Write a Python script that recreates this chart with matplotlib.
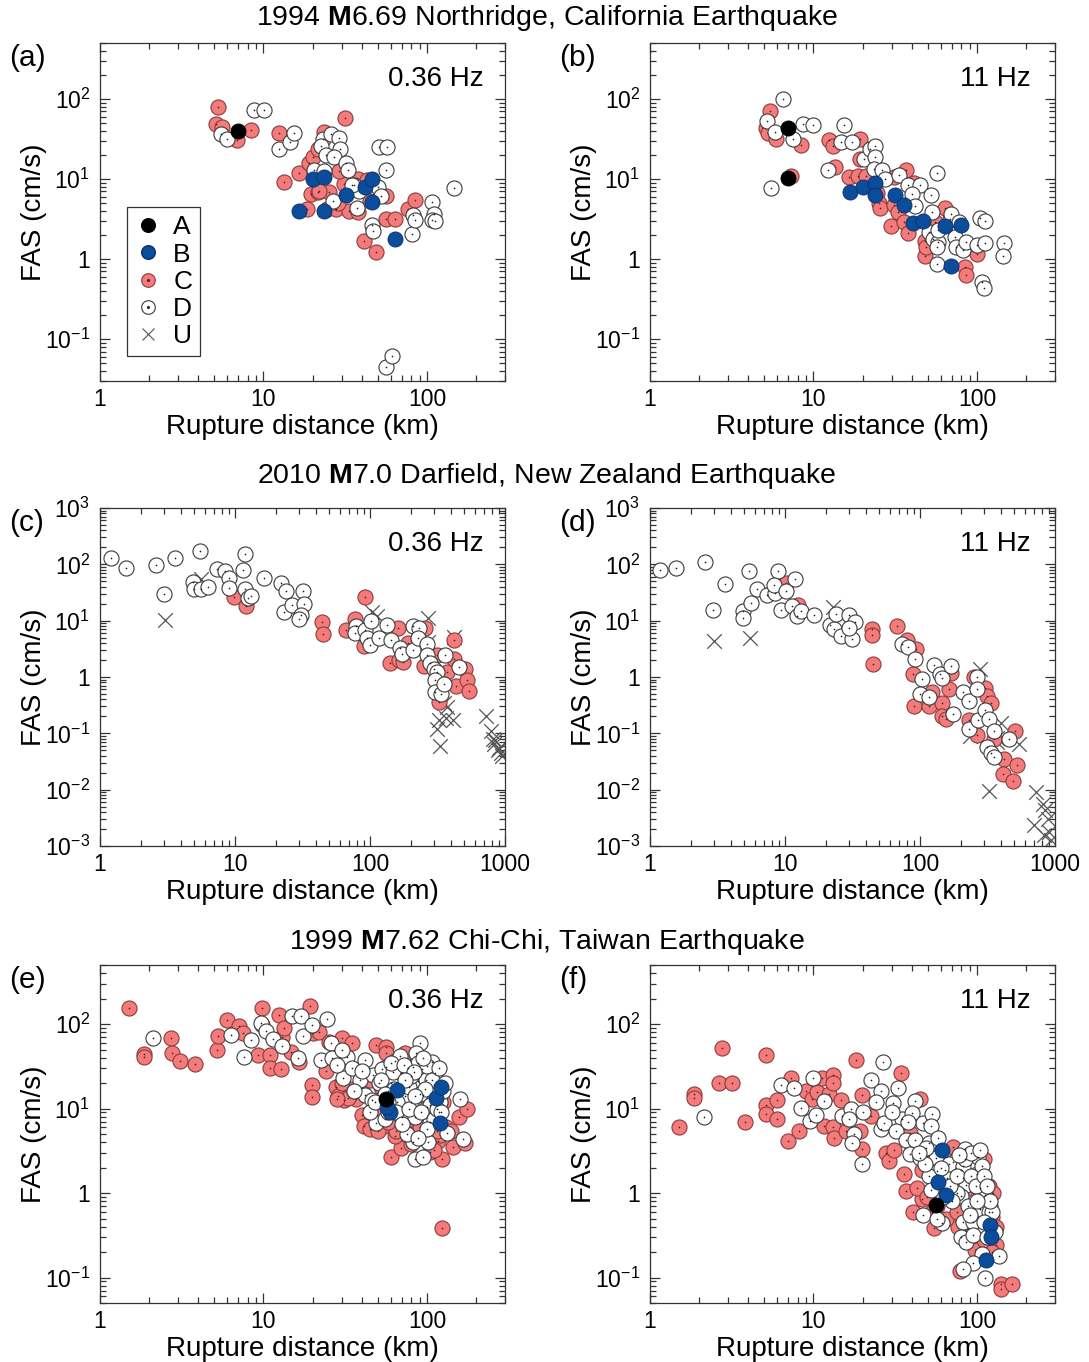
import numpy as np
import matplotlib
matplotlib.use('Agg')
import matplotlib.pyplot as plt
from matplotlib.lines import Line2D
from matplotlib.ticker import LogLocator, FuncFormatter, NullFormatter

plt.rcParams.update({'font.family': 'Liberation Sans', 'mathtext.fontset': 'custom',
                     'mathtext.rm': 'Liberation Sans', 'mathtext.bf': 'Liberation Sans:bold',
                     'mathtext.it': 'Liberation Sans:italic'})

# ---- (a) Northridge 0.36 Hz ----
a_A_r = [7.0]; a_A_f = [40]
a_B_r = [16.6, 23.5, 20, 23.5, 32, 41.5, 46, 46, 64]
a_B_f = [4.0, 4.0, 10, 10.5, 6.4, 8.0, 10, 5.2, 1.8]
a_C_r = [5.3, 5.1, 5.6, 6.9, 8.4, 12.4, 31.5, 13.3, 16.6, 19, 20, 21.5, 23.5, 19.5, 21.5, 25, 18.5,
         24.5, 27.7, 31, 33.5, 38, 38, 43, 45, 56, 41, 49, 56, 64, 76, 84, 28.5, 29, 22]
a_C_f = [79, 48, 45, 31, 41, 38, 58, 9.1, 12, 16, 19, 24, 39, 6.5, 6.9, 6.8, 4.2, 4.2, 4.2, 8.6, 4.0,
         3.9, 10, 9.6, 5.3, 6.1, 1.7, 1.24, 3.2, 3.2, 4.2, 5.4, 5.0, 12.6, 7.0]
a_D_r = [5.5, 6.0, 8.7, 10.1, 12.4, 14.5, 15.4, 23, 25.8, 29, 29.5, 22.5, 24, 27, 32, 33, 20.5, 23.5,
         36, 38.5, 37.5, 26.5, 50, 52, 46, 47, 51, 57, 56, 82, 81, 85, 108, 110, 108, 112, 146, 56, 61, 35]
a_D_f = [37, 32, 73, 73, 24, 29, 38, 31.5, 36, 33, 24, 25.5, 20, 19, 16, 13, 13, 12.5, 8.4, 7, 4.3,
         5.3, 7.9, 6.2, 2.7, 2.25, 25, 25, 13, 3.6, 2.05, 3.1, 5.1, 3.7, 3.1, 3.0, 7.8, 0.045, 0.062, 8.5]

# ---- (b) Northridge 11 Hz ----
b_A_r = [7.0, 6.95]; b_A_f = [44, 10.3]
b_B_r = [16.8, 20.2, 23.8, 23.8, 31.6, 35.7, 40.8, 47, 64, 80, 69]
b_B_f = [6.9, 8.0, 8.8, 6.4, 6.3, 4.8, 2.8, 3.0, 2.6, 2.7, 0.82]
b_C_r = [5.4, 5.1, 5.3, 5.9, 8.4, 7.3, 12.5, 13.2, 13.6, 16.6, 18.8, 19.2, 19.2, 21, 24.5, 25, 25.5,
         29.8, 31.2, 32.7, 36, 37.7, 37, 31, 48, 48, 49, 55.5, 64, 85, 86, 100, 41]
b_C_f = [70, 44, 38, 32, 26.5, 10.8, 31, 26, 14, 10.6, 11, 31.5, 18, 11, 6.6, 5.0, 4.3, 2.6, 4.7, 3.9,
         2.9, 2.1, 13, 10.6, 1.7, 1.1, 1.4, 2.9, 4.3, 0.8, 0.64, 1.15, 8.8]
b_D_r = [6.5, 5.2, 5.85, 5.5, 7.5, 8.6, 10.0, 12.3, 14.8, 15.4, 17.2, 20.4, 22.3, 23.8, 23.8, 23.3,
         26.3, 27.5, 33.5, 37.9, 45, 40, 52, 42, 53, 51, 54, 58, 57, 57, 68, 69, 73, 74, 82, 86, 100,
         105, 112, 112, 108, 110, 147, 144, 57, 78, 58]
b_D_f = [100, 53, 39, 7.8, 32, 49, 47, 13, 29, 47, 29, 18, 24, 26, 19, 13.5, 13, 10, 11.3, 8.3, 8.3,
         6.5, 6.3, 4.6, 3.9, 2.2, 1.8, 1.65, 1.4, 0.88, 3.2, 3.7, 1.9, 1.4, 1.3, 1.65, 1.5, 3.3, 3.0,
         1.6, 0.52, 0.44, 1.6, 1.1, 12, 2.9, 2.3]

# ---- (c) Darfield 0.36 Hz ----
c_C_r = [9.9, 12.1, 44, 45, 66, 77, 90, 92, 162, 140, 165, 175, 250, 255, 315, 325, 375, 420, 420,
         435, 505, 520, 540, 190]
c_C_f = [26, 18.5, 9.5, 5.8, 6.8, 10.5, 3.5, 26, 7.5, 1.75, 2.0, 1.85, 1.6, 7.5, 2.5, 0.36, 1.25, 4.5,
         2.1, 0.68, 1.4, 0.87, 0.56, 4.0]
c_D_r = [1.2, 1.55, 2.6, 3.6, 3.0, 4.9, 5.0, 5.5, 5.6, 6.3, 7.4, 8.5, 9, 9, 11.5, 11.8, 11.8, 12.5,
         13.2, 16.5, 22, 24, 23, 26.5, 32, 32.5, 31, 30, 79, 77, 92, 95, 100, 102, 116, 134, 142, 168,
         172, 210, 210, 230, 225, 265, 265, 280, 300, 315, 305, 305, 335, 355, 360, 460]
c_D_f = [128, 85, 97, 132, 30, 48, 37, 175, 36, 40, 82, 75, 57, 38, 78, 150, 37, 25, 27, 57, 47, 34,
         14, 19, 33, 20, 12.5, 10.5, 8, 6, 6.8, 5, 3.7, 9.8, 5, 8.4, 4.5, 3.3, 2.6, 8.0, 3.0, 7.5, 5,
         3.9, 2.5, 1.8, 1.4, 1.25, 0.88, 0.55, 0.5, 0.75, 2.5, 1.5]
c_U_r = [3.05, 5.6, 103, 112, 270, 270, 420, 316, 330, 325, 365, 375, 410, 355, 720, 790, 810, 830,
         880, 900, 950, 850, 930]
c_U_f = [10.3, 55, 14, 12, 11, 4.2, 5.2, 0.12, 0.06, 0.17, 0.19, 0.29, 0.17, 0.35, 0.2, 0.11, 0.08,
         0.065, 0.05, 0.055, 0.04, 0.075, 0.045]

# ---- (d) Darfield 11 Hz ----
d_C_r = [10.2, 12.5, 44, 44, 45, 68, 80, 93, 88, 90, 116, 123, 145, 145, 155, 165, 170, 230, 265, 305,
         315, 335, 355, 420, 410, 490, 520, 505, 250]
d_C_f = [47, 19, 7.2, 5.5, 1.7, 8.2, 4.5, 3.2, 1.15, 0.3, 0.3, 0.54, 0.35, 0.2, 0.18, 0.62, 1.2, 0.17,
         0.093, 0.63, 0.46, 0.35, 0.08, 0.035, 0.019, 0.014, 0.027, 0.11, 1.0]
d_D_r = [1.19, 1.55, 2.55, 3.6, 2.95, 5.4, 4.9, 4.9, 5.6, 6.2, 7.4, 8.5, 8.8, 8.3, 9.3, 10.2, 11.9,
         11.2, 12.2, 13.2, 16.5, 21.5, 23, 24, 26, 29.8, 31.5, 33, 30, 74, 81, 92, 103, 100, 116, 127,
         140, 145, 170, 175, 210, 230, 230, 265, 265, 270, 305, 325, 315, 335, 355, 460, 355]
d_D_f = [78, 85, 110, 44, 15.5, 75, 15, 11, 21, 36, 29, 31, 75, 43, 15.5, 34, 55, 18.5, 12, 15, 12.5,
         8.5, 7, 13, 5.3, 12.5, 4.7, 9.5, 7.5, 3.9, 3.4, 2.1, 0.93, 0.5, 0.44, 1.65, 1.15, 0.95, 1.6,
         0.22, 0.55, 0.38, 0.12, 1.0, 0.62, 0.17, 0.26, 0.18, 0.058, 0.045, 0.038, 0.08, 0.11]
d_U_r = [3.0, 5.5, 22.7, 280, 235, 375, 400, 375, 540, 325, 720, 700, 810, 850, 880, 830, 900, 930]
d_U_f = [4.3, 5.0, 17.5, 1.37, 0.09, 0.083, 0.15, 0.07, 0.065, 0.0093, 0.009, 0.0024, 0.0055, 0.0043,
         0.003, 0.0016, 0.0018, 0.0013]

# ---- (e) Chi-Chi 0.36 Hz ----
e_A_r = [56]; e_A_f = [13]
e_B_r = [66, 59, 57, 114, 122, 120]
e_B_f = [16.5, 9.2, 10.5, 13.5, 18, 6.8]
e_C_r = [1.5, 1.85, 1.86, 2.7, 2.75, 3.1, 3.8, 5.2, 5.3, 6.0, 7.1, 7.5, 9.8, 9.8, 9.3, 11, 11, 12.4,
         12.8, 13, 13.4, 14.7, 19.2, 20.2, 21.7, 19.7, 19.7, 30, 24, 27.8, 28.6, 31, 40, 37, 40, 41,
         48.5, 56, 56, 53, 60, 69, 75, 73, 67, 82, 116, 124, 124, 144, 158, 175, 170, 64, 105, 48.5,
         25, 16.6, 45, 65, 85, 95, 110, 120, 130, 100, 70, 35, 33,
         50, 58, 80, 90, 115, 125, 140, 45, 30, 28, 62, 35, 52]
e_C_f = [155, 44, 41, 69, 45, 37, 34, 50, 73, 113, 94, 78, 155, 98, 43, 43, 30, 128, 29, 70, 89, 47,
         165, 78, 80, 19, 13.6, 68, 27.5, 18, 14, 12.5, 16, 13, 8.3, 6.2, 57, 53, 45, 6.1, 2.7, 3.4,
         5.6, 45, 10.5, 8.5, 4.1, 2.5, 0.39, 3.5, 8.0, 10, 3.9, 4.7, 3.1, 9.6, 62, 36, 5.8, 5.5, 5.2,
         4.5, 3.2, 4.8, 6, 8, 20, 17, 13.5,
         5.5, 7, 3.8, 6, 5.5, 12, 5.5, 22, 20, 13, 30, 60, 18]
e_D_r = [2.12, 6.3, 7.6, 8.4, 9.6, 10.3, 11.5, 13, 14.9, 17, 17.5, 16.2, 19.7, 24.5, 22.4, 25.8, 26.3,
         30.5, 32.6, 35, 38.8, 41.8, 47, 48.5, 50.8, 56, 64, 63, 69, 80, 82, 84, 91, 86, 93, 100, 102,
         95, 107, 110, 118, 133, 160, 165, 42, 58, 73, 95, 53, 88, 75, 82, 46,
         60, 66, 70, 78, 85, 90, 98, 105, 112, 120, 62, 55, 76, 88, 100, 115, 68, 104, 80, 58,
         52, 60, 72, 83, 95, 108, 118, 125, 65, 78, 92, 110, 100, 88, 70, 58, 45, 40, 36, 28, 30,
         115, 97, 85, 73, 63, 55, 48, 128, 122]
e_D_f = [69, 74, 41, 65, 103, 82, 67, 55, 125, 125, 72, 40, 97, 115, 38, 60, 40, 23, 41, 30, 22, 14.5,
         25, 6.8, 20, 31, 37, 9.2, 26, 12, 4.0, 2.5, 60, 45, 29, 10.5, 4.0, 2.7, 36, 19, 9, 5.1, 13,
         4.4, 38, 16, 14, 14.5, 29, 21, 5, 31, 12.5,
         20, 12, 8, 18, 8, 15, 22, 7, 26, 12, 27, 7.5, 30, 35, 32, 15, 42, 11, 24, 12,
         22, 35, 33, 27, 40, 22, 30, 16, 9, 10, 9, 7.5, 5.8, 4.5, 6.5, 9, 9, 28, 16, 33, 50,
         10, 17, 14, 22, 17, 15, 12, 20, 9]

# ---- (f) Chi-Chi 11 Hz ----
f_A_r = [56]; f_A_f = [0.72]
f_B_r = [61, 58, 65, 120, 122, 114]
f_B_f = [3.2, 1.35, 0.95, 0.42, 0.3, 0.16]
f_C_r = [1.5, 1.86, 1.86, 2.77, 2.66, 3.17, 3.8, 5.15, 5.15, 5.15, 6.0, 6.0, 7.0, 7.3, 8.2, 9.0, 9.8,
         10.5, 11.3, 11.6, 12.4, 13.1, 13.1, 13.1, 13.4, 14.7, 15.8, 18.1, 19.7, 19.7, 19.2, 22.4,
         27.8, 29, 31, 34.4, 36, 37, 40.5, 38.8, 45, 46, 42.7, 49.5, 54.5, 57, 71, 73, 77, 78.5, 88,
         97, 110, 118, 124, 130, 124, 140, 140, 163, 53, 84, 46,
         65, 75, 95, 105, 120, 125, 130, 85, 60, 50, 40, 110]
f_C_f = [6.1, 15, 13.5, 52, 20, 20, 7, 43, 11, 8.6, 12.8, 7.5, 4.1, 23, 5.4, 16, 13, 15.5, 23, 6.3,
         15, 25, 20, 6.1, 4.5, 12.5, 5.5, 38, 14.5, 3.3, 5.5, 8.1, 3.0, 2.4, 3.2, 26, 1.7, 1.05, 0.6,
         5.1, 13, 0.86, 1.15, 0.9, 0.39, 0.7, 3.5, 1.7, 0.4, 0.12, 0.35, 0.21, 0.28, 1.2, 0.52, 0.24,
         0.2, 0.085, 0.074, 0.083, 0.6, 0.46, 1.9,
         0.5, 0.6, 0.55, 0.9, 0.7, 1.0, 0.4, 1.1, 1.5, 2.5, 3.5, 2.5]
f_D_r = [2.15, 6.3, 7.6, 8.4, 9.5, 10, 10.3, 11.6, 15, 17, 16.6, 17.8, 17.3, 19.7, 22.4, 25.8, 25.8,
         26.8, 27, 30.5, 33, 35, 31.8, 37, 42, 38.8, 42, 40, 47, 50.8, 53, 52, 45, 56, 48.5, 57, 64, 66,
         51, 47, 61, 57, 71, 80, 82, 86, 80, 88, 82, 80, 86, 95, 95, 100, 102, 107, 105, 112, 105, 118,
         124, 108, 95, 82, 112, 137, 84, 75, 67, 82,
         60, 68, 75, 85, 92, 98, 110, 115, 120, 90, 100, 110, 115, 70, 62, 52, 48, 44, 58, 38, 30,
         24, 20, 128, 92, 78, 105]
f_D_f = [8.0, 19, 17.5, 10.1, 7.2, 23, 8.4, 12.2, 8.2, 10, 7.6, 5, 3.9, 2.2, 22, 16, 5.8, 36, 6.8,
         11.5, 17.5, 7.6, 5.4, 4.3, 4.2, 2.9, 12.4, 8.8, 6.7, 3.9, 8.6, 6.2, 2.6, 2.6, 3.4, 1.8, 1.9,
         1.5, 1.6, 0.55, 0.44, 0.5, 2.3, 1.9, 1.5, 1.25, 0.93, 0.7, 0.45, 0.3, 0.26, 0.45, 0.32, 1.7,
         2.7, 2.1, 1.15, 0.95, 0.64, 0.59, 0.6, 0.19, 0.15, 0.125, 0.098, 0.18, 3.3, 1.0, 2.2, 2.1,
         2.0, 1.2, 1.6, 2.5, 1.6, 1.2, 1.6, 1.2, 0.8, 0.55, 0.8, 0.45, 0.3, 0.8, 0.9, 1.1, 2.2, 3.0,
         4.5, 7, 9, 12, 9, 0.35, 3.0, 2.8, 3.2]

row_titles = [r'1994 $\mathbf{M}$6.69 Northridge, California Earthquake',
              r'2010 $\mathbf{M}$7.0 Darfield, New Zealand Earthquake',
              r'1999 $\mathbf{M}$7.62 Chi-Chi, Taiwan Earthquake']
freqs = ['0.36 Hz', '11 Hz']

C_FACE, C_EDGE = '#F37B7B', '#8E3B3B'
D_EDGE = '#3A3A3A'
B_FACE, B_EDGE = '#0B4C9B', '#08306B'
U_COL = '#555555'
MS = 118

panels = {
    'a': dict(A=(a_A_r, a_A_f), B=(a_B_r, a_B_f), C=(a_C_r, a_C_f), D=(a_D_r, a_D_f)),
    'b': dict(A=(b_A_r, b_A_f), B=(b_B_r, b_B_f), C=(b_C_r, b_C_f), D=(b_D_r, b_D_f)),
    'c': dict(C=(c_C_r, c_C_f), D=(c_D_r, c_D_f), U=(c_U_r, c_U_f)),
    'd': dict(C=(d_C_r, d_C_f), D=(d_D_r, d_D_f), U=(d_U_r, d_U_f)),
    'e': dict(A=(e_A_r, e_A_f), B=(e_B_r, e_B_f), C=(e_C_r, e_C_f), D=(e_D_r, e_D_f)),
    'f': dict(A=(f_A_r, f_A_f), B=(f_B_r, f_B_f), C=(f_C_r, f_C_f), D=(f_D_r, f_D_f)),
}
xlims = {'a': (1, 300), 'b': (1, 300), 'c': (1, 1000), 'd': (1, 1000), 'e': (1, 300), 'f': (1, 300)}
ylims = {'a': (0.03, 500), 'b': (0.03, 500), 'c': (1e-3, 1e3), 'd': (1e-3, 1e3),
         'e': (0.05, 500), 'f': (0.05, 500)}

W, H = 1089, 1362
fig = plt.figure(figsize=(W / 100, H / 100), dpi=100)
lefts = [100, 650]
tops = [43, 508, 965]
aw, ah = 405, 338


def draw(ax, d):
    if 'U' in d:
        ax.scatter(*d['U'], marker='x', s=110, color=U_COL, linewidths=0.9, zorder=2)
    if 'C' in d:
        ax.scatter(*d['C'], s=MS, facecolor=C_FACE, edgecolor=C_EDGE, linewidths=0.8, zorder=3)
        ax.scatter(*d['C'], s=1.5, color='#5a1a1a', linewidths=0, zorder=3.1)
    if 'D' in d:
        ax.scatter(*d['D'], s=MS, facecolor='white', edgecolor=D_EDGE, linewidths=0.8, zorder=4)
        ax.scatter(*d['D'], s=1.5, color='#222222', linewidths=0, zorder=4.1)
    if 'B' in d:
        ax.scatter(*d['B'], s=MS, facecolor=B_FACE, edgecolor=B_EDGE, linewidths=0.6, zorder=5)
    if 'A' in d:
        ax.scatter(*d['A'], s=MS, facecolor='black', edgecolor='black', linewidths=0.6, zorder=6)


def yfmt(v, pos):
    n = int(round(np.log10(v)))
    return '1' if n == 0 else r'$10^{%d}$' % n


for i, key in enumerate('abcdef'):
    row, col = divmod(i, 2)
    ax = fig.add_axes([lefts[col] / W, 1 - (tops[row] + ah) / H, aw / W, ah / H])
    draw(ax, panels[key])
    ax.set_xscale('log'); ax.set_yscale('log')
    ax.set_xlim(*xlims[key]); ax.set_ylim(*ylims[key])
    ax.xaxis.set_major_locator(LogLocator(base=10))
    ax.yaxis.set_major_locator(LogLocator(base=10))
    ax.xaxis.set_minor_locator(LogLocator(base=10, subs=np.arange(2, 10)))
    ax.yaxis.set_minor_locator(LogLocator(base=10, subs=np.arange(2, 10)))
    ax.xaxis.set_major_formatter(FuncFormatter(lambda v, p: '%d' % round(v)))
    ax.yaxis.set_major_formatter(FuncFormatter(yfmt))
    ax.xaxis.set_minor_formatter(NullFormatter())
    ax.yaxis.set_minor_formatter(NullFormatter())
    ax.tick_params(which='both', direction='in', top=True, right=True, color='#333333', width=0.9)
    ax.tick_params(which='major', length=7)
    ax.tick_params(which='minor', length=4)
    ax.tick_params(axis='x', which='major', labelsize=16.5, pad=5)
    ax.tick_params(axis='y', which='major', labelsize=16.5, pad=7)
    for s in ax.spines.values():
        s.set_linewidth(0.9); s.set_color('#333333')
    ax.set_xlabel('Rupture distance (km)', fontsize=20, labelpad=2)
    ax.set_ylabel('FAS (cm/s)', fontsize=20, labelpad=-1)
    ax.text(0.948 if col == 0 else 0.94, 0.893, freqs[col], transform=ax.transAxes,
            ha='right', va='center', fontsize=20)
    fig.text((9 if col == 0 else 559) / W, 1 - (tops[row] + 15) / H, '(%s)' % key,
             fontsize=21.5, va='center', ha='left')
    if key == 'a':
        hA = Line2D([], [], ls='', marker='o', ms=9.8, mfc='black', mec='black')
        hB = Line2D([], [], ls='', marker='o', ms=9.8, mfc=B_FACE, mec=B_EDGE)
        hC = (Line2D([], [], ls='', marker='o', ms=9.8, mfc=C_FACE, mec=C_EDGE, mew=0.8),
              Line2D([], [], ls='', marker='o', ms=1.2, mfc='#5a1a1a', mec='#5a1a1a'))
        hD = (Line2D([], [], ls='', marker='o', ms=9.8, mfc='white', mec=D_EDGE, mew=0.8),
              Line2D([], [], ls='', marker='o', ms=1.2, mfc='#222222', mec='#222222'))
        hU = Line2D([], [], ls='', marker='x', ms=9, mec=U_COL, mew=0.8)
        leg = ax.legend([hA, hB, hC, hD, hU], ['A', 'B', 'C', 'D', 'U'], loc='lower left',
                        bbox_to_anchor=(0.067, 0.074), borderaxespad=0, fontsize=19,
                        handlelength=1.0, handletextpad=0.45, labelspacing=0.12, borderpad=0.3,
                        fancybox=False, framealpha=1, edgecolor='#333333')
        leg.get_frame().set_linewidth(0.9)

for row, t in enumerate(row_titles):
    y = [18, 476, 942][row]
    fig.text(0.502, 1 - y / H, t, ha='center', va='center', fontsize=20.5)

fig.savefig('out.png', dpi=100, facecolor='white')
